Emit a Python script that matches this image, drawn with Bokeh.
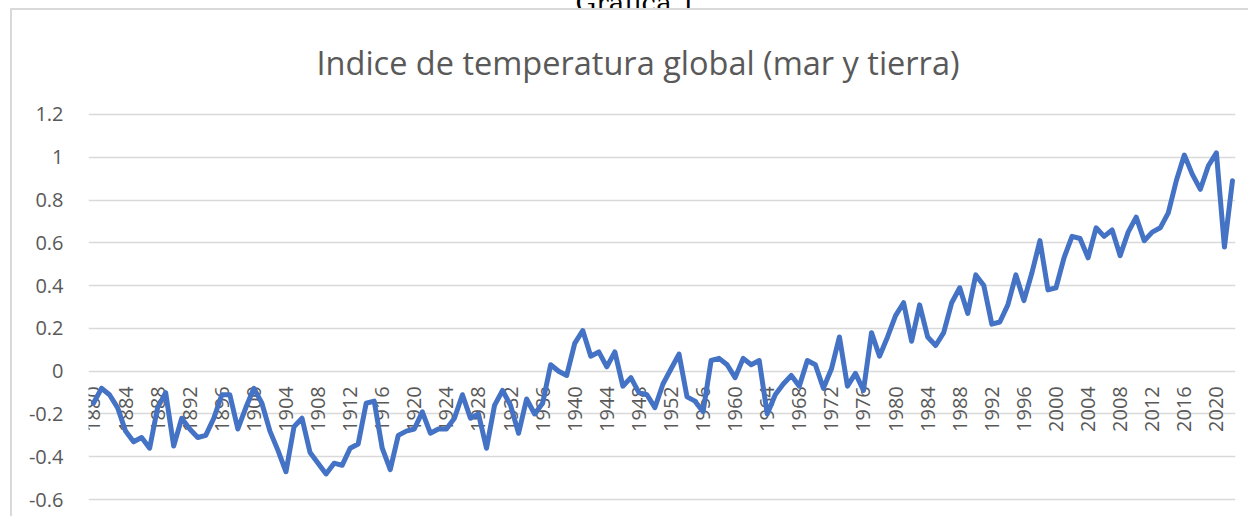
import math
from bokeh.plotting import figure
from bokeh.layouts import column
from bokeh.models import FixedTicker, CustomJSTickFormatter, Range1d, Div
from bokeh.core.properties import value
from bokeh.embed import file_html
from bokeh.resources import INLINE

caption_text = "Gráfica 1"
title_text = "Indice de temperatura global (mar y tierra)"

years = list(range(1880, 2023))
anomaly = [
    -0.15, -0.08, -0.11, -0.17, -0.28, -0.33, -0.31, -0.36, -0.17, -0.10,  # 1880-1889
    -0.35, -0.22, -0.27, -0.31, -0.30, -0.22, -0.11, -0.11, -0.27, -0.17,  # 1890-1899
    -0.08, -0.15, -0.28, -0.37, -0.47, -0.26, -0.22, -0.38, -0.43, -0.48,  # 1900-1909
    -0.43, -0.44, -0.36, -0.34, -0.15, -0.14, -0.36, -0.46, -0.30, -0.28,  # 1910-1919
    -0.27, -0.19, -0.29, -0.27, -0.27, -0.22, -0.11, -0.22, -0.20, -0.36,  # 1920-1929
    -0.16, -0.09, -0.16, -0.29, -0.13, -0.20, -0.15, 0.03, 0.00, -0.02,    # 1930-1939
    0.13, 0.19, 0.07, 0.09, 0.02, 0.09, -0.07, -0.03, -0.10, -0.11,        # 1940-1949
    -0.17, -0.06, 0.01, 0.08, -0.12, -0.14, -0.19, 0.05, 0.06, 0.03,       # 1950-1959
    -0.03, 0.06, 0.03, 0.05, -0.20, -0.11, -0.06, -0.02, -0.07, 0.05,      # 1960-1969
    0.03, -0.08, 0.01, 0.16, -0.07, -0.01, -0.09, 0.18, 0.07, 0.16,        # 1970-1979
    0.26, 0.32, 0.14, 0.31, 0.16, 0.12, 0.18, 0.32, 0.39, 0.27,            # 1980-1989
    0.45, 0.40, 0.22, 0.23, 0.31, 0.45, 0.33, 0.46, 0.61, 0.38,            # 1990-1999
    0.39, 0.53, 0.63, 0.62, 0.53, 0.67, 0.63, 0.66, 0.54, 0.65,            # 2000-2009
    0.72, 0.61, 0.65, 0.67, 0.74, 0.89, 1.01, 0.92, 0.85, 0.96,            # 2010-2019
    1.02, 0.58, 0.89,                                                      # 2020-2022
]

x_tick_years = [1880, 1884, 1888, 1892, 1896, 1900, 1904, 1908, 1912, 1916,
                1920, 1924, 1928, 1932, 1936, 1940, 1944, 1948, 1952, 1956,
                1960, 1964, 1968, 1972, 1976, 1980, 1984, 1988, 1992, 1996,
                2000, 2004, 2008, 2012, 2016, 2020]
x_tick_labels = [str(y) for y in x_tick_years]
y_ticks = [-0.6, -0.4, -0.2, 0, 0.2, 0.4, 0.6, 0.8, 1.0, 1.2]

TXT = "#595959"
FONT = "Open Sans"
BORDER = "#d9d9d9"

# caption of the document, cut at the top as in the source picture
caption = Div(
    text=('<div style="box-sizing:border-box;width:1250px;margin-top:-20px;'
          'padding-left:22px;text-align:center;white-space:nowrap;'
          'font-family:\'DejaVu Serif\';font-size:26px;line-height:30px;color:#000;">'
          + caption_text + '</div>'),
    width=1250, height=8, margin=0,
    styles={"overflow": "hidden"},
)

p = figure(width=1238, height=508, output_backend="svg", toolbar_location=None,
           x_range=Range1d(1879.38, 2022.38), y_range=Range1d(-0.609, 1.209),
           min_border_left=76, min_border_right=15, min_border_top=95, min_border_bottom=17,
           margin=(2, 0, 0, 12))
# chart-area border (left and top), drawn outside the canvas so the layout is unchanged
p.styles = {"box-shadow": "-2px -2px 0 0 " + BORDER}

p.title.text = title_text
p.title.align = "left"
p.title.offset = 228
p.title.standoff = 55
p.title.text_font = FONT
p.title.text_font_size = "32.5px"
p.title.text_font_style = "normal"
p.title.text_color = TXT

p.outline_line_color = None
p.background_fill_color = "white"
p.border_fill_color = "white"

p.xaxis.visible = False
p.xgrid.grid_line_color = None

p.yaxis.ticker = FixedTicker(ticks=y_ticks)
p.yaxis.formatter = CustomJSTickFormatter(code="return Number(tick.toFixed(1)).toString();")
p.yaxis.axis_line_color = None
p.yaxis.major_tick_line_color = None
p.yaxis.minor_tick_line_color = None
p.yaxis.major_label_standoff = 19
p.yaxis.major_label_text_font = FONT
p.yaxis.major_label_text_font_size = "20px"
p.yaxis.major_label_text_color = TXT
p.ygrid.ticker = FixedTicker(ticks=y_ticks)
p.ygrid.grid_line_color = BORDER
p.ygrid.grid_line_width = 1.5

p.text(x=x_tick_years, y=[0] * len(x_tick_years), text=x_tick_labels,
       angle=math.pi / 2, text_align="right", text_baseline="middle",
       y_offset=15, text_font=value(FONT), text_font_size="20px", text_color=TXT)

p.line(years, anomaly, line_width=5, line_color="#4472C4",
       line_join="round", line_cap="round")

layout = column(caption, p, spacing=0)
open("out.html", "w").write(file_html(layout, INLINE))
